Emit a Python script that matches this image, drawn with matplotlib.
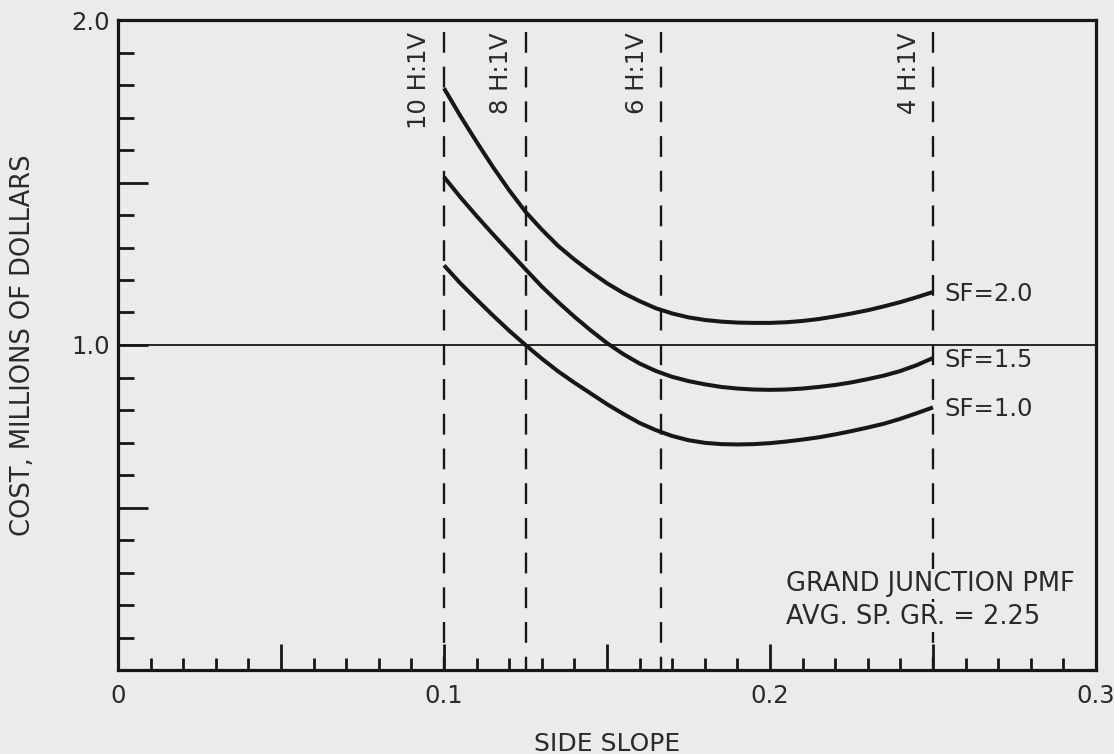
import numpy as np
import matplotlib
matplotlib.use("Agg")
import matplotlib.pyplot as plt
from matplotlib.ticker import FixedLocator, FixedFormatter

# Side slope (V/H) at which the costs were evaluated
side_slope = [0.100, 0.105, 0.110, 0.115, 0.120, 0.125, 0.130, 0.135,
              0.140, 0.145, 0.150, 0.155, 0.160, 0.165, 0.170, 0.175,
              0.180, 0.185, 0.190, 0.195, 0.200, 0.205, 0.210, 0.215,
              0.220, 0.225, 0.230, 0.235, 0.240, 0.245, 0.250]

# Cost in millions of dollars for each safety factor
cost_sf20 = [1.79, 1.705, 1.625, 1.548, 1.476, 1.41, 1.355, 1.305,
             1.263, 1.225, 1.19, 1.16, 1.135, 1.113, 1.097, 1.085,
             1.077, 1.072, 1.069, 1.068, 1.068, 1.07, 1.074, 1.08,
             1.088, 1.097, 1.107, 1.119, 1.132, 1.147, 1.163]
cost_sf15 = [1.517, 1.455, 1.397, 1.341, 1.287, 1.233, 1.18, 1.132,
             1.087, 1.045, 1.006, 0.972, 0.943, 0.92, 0.902, 0.889,
             0.879, 0.871, 0.866, 0.863, 0.862, 0.863, 0.866, 0.871,
             0.877, 0.885, 0.895, 0.906, 0.92, 0.938, 0.96]
cost_sf10 = [1.245, 1.19, 1.14, 1.091, 1.044, 1.0, 0.958, 0.919,
             0.884, 0.851, 0.818, 0.788, 0.76, 0.738, 0.72, 0.707,
             0.699, 0.695, 0.694, 0.695, 0.698, 0.703, 0.709, 0.716,
             0.725, 0.735, 0.746, 0.758, 0.773, 0.79, 0.808]

series = [("SF=2.0", cost_sf20), ("SF=1.5", cost_sf15), ("SF=1.0", cost_sf10)]

# Reference slopes, horizontal run per unit rise
slope_runs = [10, 8, 6, 4]
slope_labels = ["10 H:1V", "8 H:1V", "6 H:1V", "4 H:1V"]

x_tick_labels = ["0", "0.1", "0.2", "0.3"]
y_tick_labels = ["1.0", "2.0"]

note_lines = ["GRAND JUNCTION PMF", "AVG. SP. GR. = 2.25"]

BG = "#ebebe9"
INK = "#171717"
TXT = "#2a2a2a"

plt.rcParams["font.family"] = ["DejaVu Sans"]

W, H = 1114, 754
fig = plt.figure(figsize=(W / 100, H / 100), dpi=100, facecolor=BG)
ax = fig.add_axes([118 / W, 1 - 670 / H, 978 / W, 650 / H], facecolor=BG)

ax.set_xlim(0, 0.3)
ax.set_ylim(0, 2.0)

for sp in ax.spines.values():
    sp.set_linewidth(2.3)
    sp.set_color(INK)

# x ticks: long every 0.05, short every 0.01, labels every 0.1
x_major = np.round(np.arange(0, 0.3001, 0.05), 3)
x_minor = np.round(np.arange(0, 0.3001, 0.01), 3)
ax.xaxis.set_major_locator(FixedLocator(x_major))
ax.xaxis.set_major_formatter(FixedFormatter(
    [x_tick_labels[int(round(v * 10))] if abs(v * 10 - round(v * 10)) < 1e-6 else "" for v in x_major]))
ax.xaxis.set_minor_locator(FixedLocator([v for v in x_minor if min(abs(v - x_major)) > 1e-6]))

# y ticks: long at every 0.5, short every 0.1, labels at 1.0 and 2.0
y_major = [0.5, 1.0, 1.5, 2.0]
ax.yaxis.set_major_locator(FixedLocator(y_major))
ax.yaxis.set_major_formatter(FixedFormatter(["", y_tick_labels[0], "", y_tick_labels[1]]))
y_minor = np.round(np.arange(0.1, 2.0, 0.1), 2)
ax.yaxis.set_minor_locator(FixedLocator([v for v in y_minor if min(abs(v - np.array(y_major))) > 1e-6]))

ax.tick_params(axis="x", which="major", direction="in", length=18.5, width=2.0,
               color=INK, pad=10, labelsize=17.5, labelcolor=TXT)
ax.tick_params(axis="x", which="minor", direction="in", length=9, width=2.0, color=INK)
ax.tick_params(axis="y", which="major", direction="in", length=21.5, width=2.0,
               color=INK, pad=6, labelsize=17.5, labelcolor=TXT)
ax.tick_params(axis="y", which="minor", direction="in", length=11.5, width=2.0, color=INK)
ax.tick_params(top=False, right=False)

# horizontal reference at one million dollars
ax.axhline(1.0, color=INK, lw=1.3, zorder=2)

# dashed reference slopes
y_top = 1.963
for run, lab in zip(slope_runs, slope_labels):
    xv = 1.0 / run
    ax.plot([xv, xv], [y_top, 0], color=INK, lw=1.7,
            linestyle=(0, (8.8, 5.9)), zorder=2)
    ax.annotate(lab, xy=(xv, y_top), xytext=(-9, 0), textcoords="offset points",
                rotation=90, ha="right", va="top", fontsize=17.5, color=TXT)

# cost curves
for name, cost in series:
    ax.plot(side_slope, cost, color=INK, lw=2.9, solid_capstyle="butt",
            solid_joinstyle="round", zorder=3)
    ax.annotate(name, xy=(side_slope[-1], cost[-1]), xytext=(8.5, -1.5),
                textcoords="offset points", ha="left", va="center",
                fontsize=17.5, color=TXT)

ax.text(0.2049, 0.265, note_lines[0], ha="left", va="center", fontsize=18.5,
        color=TXT, zorder=4,
        bbox=dict(facecolor=BG, edgecolor="none", pad=1.5))
ax.text(0.2049, 0.163, note_lines[1], ha="left", va="center", fontsize=18.5,
        color=TXT, zorder=4,
        bbox=dict(facecolor=BG, edgecolor="none", pad=1.5))

ax.set_xlabel("SIDE SLOPE", fontsize=18, color=TXT, va="center")
ax.xaxis.set_label_coords(0.5, -0.114)
ax.set_ylabel("COST, MILLIONS OF DOLLARS", fontsize=18.5, color=TXT, va="center")
ax.yaxis.set_label_coords(-0.097, 0.5)

fig.savefig("out.png", dpi=100, facecolor=BG)
